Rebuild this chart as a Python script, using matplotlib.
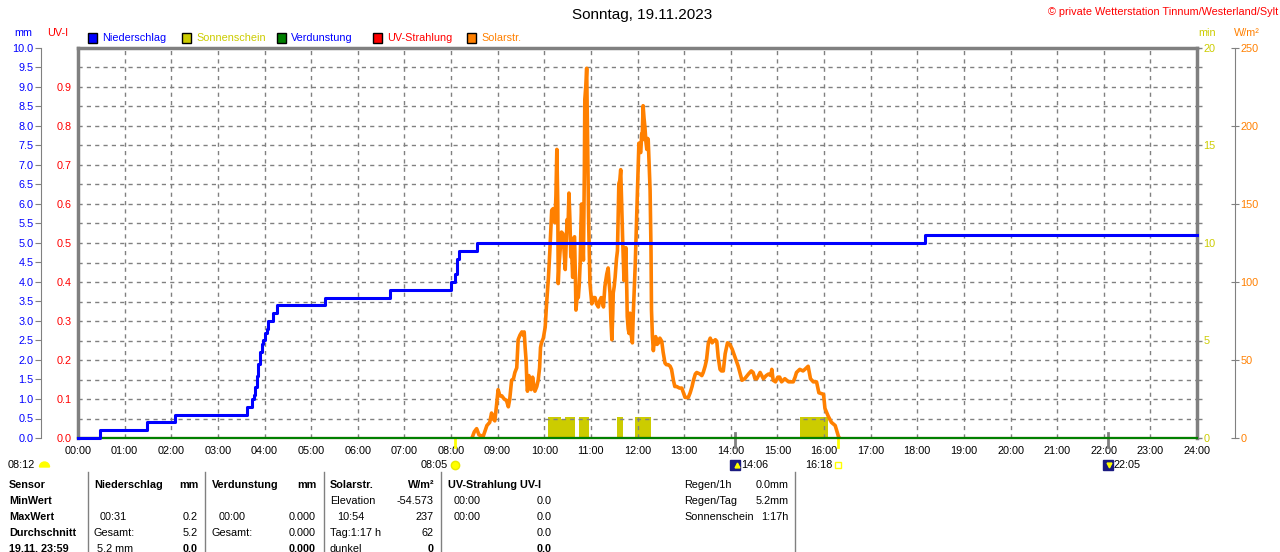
import matplotlib.pyplot as plt
from matplotlib.transforms import Affine2D, blended_transform_factory
from matplotlib.lines import Line2D
from matplotlib.patches import Rectangle, Wedge
import numpy as np

plt.rcParams['font.family'] = ['Liberation Sans', 'DejaVu Sans']

# Niederschlag (kumuliert, mm) - Zeit in Stunden
rain_t = [0, 0.47, 1.47, 2.08, 3.62, 3.74, 3.77, 3.80, 3.83, 3.87, 3.90, 3.94, 3.97,
          4.01, 4.05, 4.08, 4.18, 4.27, 5.30, 6.69, 8.01, 8.08, 8.12, 8.17, 8.55, 18.17, 24]
rain_mm = [0, 0.2, 0.4, 0.6, 0.8, 1.0, 1.1, 1.3, 1.6, 1.9, 2.2, 2.4, 2.5,
           2.7, 2.8, 3.0, 3.2, 3.4, 3.6, 3.8, 4.0, 4.2, 4.6, 4.8, 5.0, 5.2, 5.2]

# Solarstrahlung W/m2
sol_t = [8.45, 8.50, 8.55, 8.60, 8.69, 8.77, 8.83, 8.87, 8.91, 8.94, 8.98, 9.01, 9.05, 9.09,
         9.14, 9.19, 9.23, 9.26, 9.30, 9.34, 9.37, 9.41, 9.44, 9.48, 9.52, 9.55, 9.57, 9.59,
         9.61, 9.63, 9.64, 9.67, 9.69, 9.72, 9.75, 9.78, 9.80, 9.84, 9.87, 9.90, 9.92, 9.94,
         9.98, 10.02, 10.05, 10.09, 10.12, 10.16, 10.19, 10.23, 10.25, 10.27, 10.29, 10.30,
         10.32, 10.34, 10.37, 10.40, 10.43, 10.45, 10.47, 10.49, 10.51, 10.53, 10.55, 10.57,
         10.59, 10.61, 10.63, 10.65, 10.67, 10.68, 10.71, 10.73, 10.75, 10.77, 10.79, 10.80,
         10.82, 10.84, 10.86, 10.87, 10.89, 10.91, 10.93, 10.95, 10.97, 10.98, 11.02, 11.05,
         11.09, 11.12, 11.16, 11.19, 11.22, 11.25, 11.27, 11.30, 11.34, 11.37, 11.39, 11.41,
         11.43, 11.45, 11.47, 11.48, 11.50, 11.52, 11.55, 11.57, 11.59, 11.60, 11.62, 11.64,
         11.66, 11.68, 11.70, 11.71, 11.73, 11.75, 11.77, 11.78, 11.80, 11.82, 11.84, 11.85,
         11.87, 11.89, 11.91, 11.93, 11.95, 11.96, 11.98, 12.00, 12.02, 12.03, 12.05, 12.07,
         12.09, 12.10, 12.12, 12.14, 12.16, 12.18, 12.20, 12.22, 12.23, 12.25, 12.27, 12.29,
         12.30, 12.32, 12.34, 12.36, 12.39, 12.42, 12.45, 12.48, 12.52, 12.55, 12.59, 12.62,
         12.66, 12.70, 12.73, 12.77, 12.80, 12.84, 12.90, 12.95, 13.02, 13.09, 13.13, 13.17,
         13.20, 13.24, 13.27, 13.34, 13.38, 13.41, 13.45, 13.48, 13.52, 13.56, 13.60, 13.63,
         13.67, 13.70, 13.73, 13.77, 13.80, 13.84, 13.88, 13.93, 13.98, 14.03, 14.09, 14.16,
         14.24, 14.30, 14.38, 14.44, 14.48, 14.52, 14.56, 14.63, 14.70, 14.76, 14.81, 14.86,
         14.88, 14.91, 14.96, 15.01, 15.05, 15.09, 15.16, 15.24, 15.34, 15.38, 15.41, 15.48,
         15.55, 15.59, 15.66, 15.71, 15.77, 15.84, 15.89, 15.99, 16.02, 16.09, 16.16, 16.24,
         16.31, 16.33]
sol_w = [0, 4, 6, 2, 1, 8, 10, 16, 12, 11, 22, 31, 27, 27,
         25, 24, 20, 25, 37, 38, 42, 45, 63, 66, 68, 66, 68, 58,
         50, 34, 30, 40, 35, 31, 39, 33, 30, 33, 37, 45, 58, 61,
         64, 71, 86, 103, 120, 146, 147, 138, 155, 185, 150, 99,
         112, 120, 132, 131, 118, 108, 125, 140, 135, 157, 140, 116,
         118, 103, 128, 129, 100, 82, 92, 90, 98, 112, 140, 150,
         130, 114, 170, 217, 225, 237, 190, 142, 115, 99, 86, 90,
         90, 86, 84, 88, 90, 87, 84, 97, 105, 109, 100, 93,
         75, 63, 80, 93, 97, 103, 115, 120, 150, 163, 165, 172,
         150, 129, 110, 101, 110, 122, 95, 78, 70, 67, 80, 71,
         65, 61, 80, 95, 110, 120, 140, 159, 180, 189, 184, 183,
         195, 191, 213, 205, 199, 190, 185, 192, 191, 175, 159, 120,
         82, 65, 56, 62, 65, 60, 61, 64, 62, 55, 48, 47,
         47, 46, 44, 37, 33, 33, 32, 32, 26, 26, 29, 33,
         37, 41, 42, 41, 40, 42, 46, 50, 61, 64, 61, 62,
         63, 62, 52, 44, 43, 43, 54, 61, 60, 57, 52, 46,
         37, 38, 41, 43, 42, 38, 38, 42, 38, 40, 41, 40,
         44, 37, 36, 39, 39, 36, 38, 36, 36, 39, 42, 44,
         43, 44, 46, 38, 36, 36, 29, 28, 19, 14, 10, 8,
         1, 0]

# Sonnenschein (min)
sun_start = [10.09, 10.35, 10.45, 10.75, 11.57, 11.95, 15.49]
sun_end = [10.35, 10.45, 10.66, 10.97, 11.69, 12.29, 16.08]
sun_min = [1.1, 1.0, 1.1, 1.1, 1.1, 1.1, 1.1]

# Verdunstung und UV
evap_t = [0, 24]
evap_mm = [0, 0]
uv_t = [0, 24]
uv_val = [0, 0]

hours = list(range(25))
hour_labels = ['%02d:00' % h for h in hours]
mm_ticks = np.arange(0, 10.01, 0.5)
uv_ticks = np.arange(0, 0.91, 0.1)
min_ticks = [0, 5, 10, 15, 20]
sol_ticks = [0, 50, 100, 150, 200, 250]

BLUE = '#0000FF'
YEL = '#CCCC00'
GREEN = '#008000'
RED = '#FF0000'
ORANGE = '#FF8000'
GREY = '#808080'
FS = 7.8

fig = plt.figure(figsize=(12.8, 5.52), dpi=100)
pix = Affine2D().scale(1 / 1280, -1 / 552).translate(0, 1) + fig.transFigure

ax_min = fig.add_axes([78 / 1280, 114 / 552, 1119 / 1280, 390 / 552])
ax_sol = ax_min.twinx()
ax_uv = ax_min.twinx()
ax_mm = ax_min.twinx()

for a in (ax_min, ax_sol, ax_uv, ax_mm):
    for s in a.spines.values():
        s.set_visible(False)
    a.set_xlim(0, 24)

# Basis: Sonnenschein-Achse, Gitter, Zeitachse
ax_min.set_ylim(0, 20)
ax_min.yaxis.tick_right()
ax_min.set_yticks(min_ticks)
ax_min.set_yticks(range(21), minor=True)
ax_min.tick_params(axis='y', which='both', direction='out', length=3.6, width=1,
                   color=GREY, labelcolor=YEL, labelsize=FS, pad=1)
ax_min.set_xticks(hours)
ax_min.set_xticklabels(hour_labels)
ax_min.tick_params(axis='x', length=0, labelsize=FS, pad=6)
ax_min.grid(True, which='both', axis='y', color=GREY, lw=1, ls=(0, (3, 3)))
ax_min.grid(True, which='major', axis='x', color=GREY, lw=1, ls=(0, (3, 3)))
for side in ('top', 'right'):
    ax_min.spines[side].set_visible(True)
    ax_min.spines[side].set_color(GREY)
    ax_min.spines[side].set_linewidth(2.5)
ax_min.bar(sun_start, sun_min, width=np.array(sun_end) - np.array(sun_start),
           align='edge', color=YEL, linewidth=0)

# Solarstrahlung
ax_sol.set_ylim(0, 250)
ax_sol.set_yticks(sol_ticks)
ax_sol.spines['right'].set_visible(True)
ax_sol.spines['right'].set_position(('outward', 27.4))
ax_sol.spines['right'].set_color(GREY)
ax_sol.tick_params(axis='y', direction='inout', length=5.8, color=GREY,
                   labelcolor=ORANGE, labelsize=FS, pad=1)
ax_sol.plot(sol_t, sol_w, color=ORANGE, lw=2.6)

# UV-I
ax_uv.set_ylim(0, 1)
ax_uv.yaxis.tick_left()
ax_uv.set_yticks(uv_ticks)
ax_uv.set_yticklabels(['%.1f' % v for v in uv_ticks])
ax_uv.spines['left'].set_visible(True)
ax_uv.spines['left'].set_color(GREY)
ax_uv.spines['left'].set_linewidth(2.5)
ax_uv.tick_params(axis='y', length=0, labelcolor=RED, labelsize=FS, pad=4.5)
ax_uv.plot(uv_t, uv_val, color=RED, lw=1.5, clip_on=False)

# Niederschlag mm
ax_mm.set_ylim(0, 10)
ax_mm.yaxis.tick_left()
ax_mm.set_yticks(mm_ticks)
ax_mm.set_yticklabels(['%.1f' % v for v in mm_ticks])
ax_mm.spines['left'].set_visible(True)
ax_mm.spines['left'].set_position(('outward', 26.6))
ax_mm.spines['left'].set_color(GREY)
ax_mm.tick_params(axis='y', direction='out', length=4.3, color=GREY,
                  labelcolor=BLUE, labelsize=FS, pad=1)
ax_mm.plot(evap_t, evap_mm, color=GREEN, lw=1.6, clip_on=False)
ax_mm.plot(rain_t, rain_mm, drawstyle='steps-post', color=BLUE, lw=2.2, clip_on=False)

# Sonne/Mond Markierungen unter der Zeitachse
ev = blended_transform_factory(ax_min.transData, ax_min.transAxes)
sun_events = [8 + 5 / 60, 16 + 18 / 60]
moon_events = [14 + 6 / 60, 22 + 5 / 60]
for t in sun_events:
    ax_min.plot([t, t], [0, -0.024], color='#FFFF00', lw=2, transform=ev, clip_on=False)
for t in moon_events:
    ax_min.plot([t, t], [0.013, -0.024], color=GREY, lw=2, transform=ev, clip_on=False)

yv = -(465 - 438) / 390
ax_min.plot([sun_events[0]], [yv], marker='o', ms=6, color='#FFFF00', mec='#E8E800',
            transform=ev, clip_on=False)
ax_min.text(sun_events[0] - 0.15, yv, '08:05', ha='right', va='center', fontsize=FS, transform=ev)
ax_min.plot([sun_events[1]], [yv], marker='s', ms=4.5, mfc='white', mec='#FFFF00', mew=1,
            transform=ev, clip_on=False)
ax_min.text(sun_events[1] - 0.12, yv, '16:18', ha='right', va='center', fontsize=FS, transform=ev)
for t, lab, mk in zip(moon_events, ['14:06', '22:05'], ['^', 'v']):
    ax_min.plot([t], [yv], marker='s', ms=7.5, color='#1A1A80', transform=ev, clip_on=False)
    ax_min.plot([t + 0.03], [yv], marker=mk, ms=3.5, color='#FFFF00', transform=ev, clip_on=False)
    ax_min.text(t + 0.12, yv, lab, ha='left', va='center', fontsize=FS, transform=ev)

fig.text(8, 465, '08:12', ha='left', va='center', fontsize=FS, transform=pix)
fig.add_artist(Wedge((44.5, 467), 5, 180, 360, color='#FFFF00', transform=pix))

# Kopfzeile
fig.text(642, 15, 'Sonntag, 19.11.2023', ha='center', va='center', fontsize=11, transform=pix)
fig.text(1278, 12, '© private Wetterstation Tinnum/Westerland/Sylt', ha='right', va='center',
         fontsize=FS, color=RED, transform=pix)
fig.text(14, 33, 'mm', ha='left', va='center', fontsize=FS, color=BLUE, transform=pix)
fig.text(47, 33, 'UV-I', ha='left', va='center', fontsize=FS, color=RED, transform=pix)
fig.text(1198, 33, 'min', ha='left', va='center', fontsize=FS, color=YEL, transform=pix)
fig.text(1234, 33, 'W/m²', ha='left', va='center', fontsize=FS, color=ORANGE, transform=pix)

legend_names = ['Niederschlag', 'Sonnenschein', 'Verdunstung', 'UV-Strahlung', 'Solarstr.']
legend_box = [BLUE, YEL, GREEN, RED, ORANGE]
legend_text = [BLUE, YEL, BLUE, RED, ORANGE]
legend_x = [88, 182, 277, 373, 467]
for name, bc, tc, x in zip(legend_names, legend_box, legend_text, legend_x):
    fig.add_artist(Rectangle((x, 33), 9, 10, facecolor=bc, edgecolor='black', lw=1, transform=pix))
    fig.text(x + 14, 38, name, ha='left', va='center', fontsize=FS, color=tc, transform=pix)

# Tabelle unten
for x in [88, 205, 324, 441, 795]:
    fig.add_artist(Line2D([x, x], [472, 552], color=GREY, lw=1, transform=pix))

rows_y = [485, 501, 517, 533, 549]
sensor_col = ['Sensor', 'MinWert', 'MaxWert', 'Durchschnitt', '19.11. 23:59']
for y, s in zip(rows_y, sensor_col):
    fig.text(9, y, s, ha='left', va='center', fontsize=FS, fontweight='bold', transform=pix)

table_cells = [
    # (x, y, text, align, bold)
    (94, 485, 'Niederschlag', 'left', True), (198, 485, 'mm', 'right', True),
    (100, 517, '00:31', 'left', False), (198, 517, '0.2', 'right', False),
    (94, 533, 'Gesamt:', 'left', False), (198, 533, '5.2', 'right', False),
    (97, 549, '5.2 mm', 'left', False), (198, 549, '0.0', 'right', True),
    (212, 485, 'Verdunstung', 'left', True), (316, 485, 'mm', 'right', True),
    (219, 517, '00:00', 'left', False), (316, 517, '0.000', 'right', False),
    (212, 533, 'Gesamt:', 'left', False), (316, 533, '0.000', 'right', False),
    (316, 549, '0.000', 'right', True),
    (330, 485, 'Solarstr.', 'left', True), (434, 485, 'W/m²', 'right', True),
    (330, 501, 'Elevation', 'left', False), (434, 501, '-54.573', 'right', False),
    (337, 517, '10:54', 'left', False), (434, 517, '237', 'right', False),
    (330, 533, 'Tag:1:17 h', 'left', False), (434, 533, '62', 'right', False),
    (330, 549, 'dunkel', 'left', False), (434, 549, '0', 'right', True),
    (448, 485, 'UV-Strahlung UV-I', 'left', True),
    (454, 501, '00:00', 'left', False), (552, 501, '0.0', 'right', False),
    (454, 517, '00:00', 'left', False), (552, 517, '0.0', 'right', False),
    (552, 533, '0.0', 'right', False), (552, 549, '0.0', 'right', True),
    (684, 485, 'Regen/1h', 'left', False), (789, 485, '0.0mm', 'right', False),
    (684, 501, 'Regen/Tag', 'left', False), (789, 501, '5.2mm', 'right', False),
    (684, 517, 'Sonnenschein', 'left', False), (789, 517, '1:17h', 'right', False),
]
for x, y, s, ha, bold in table_cells:
    fig.text(x, y, s, ha=ha, va='center', fontsize=FS,
             fontweight='bold' if bold else 'normal', transform=pix)

fig.savefig('out.png', dpi=100)
